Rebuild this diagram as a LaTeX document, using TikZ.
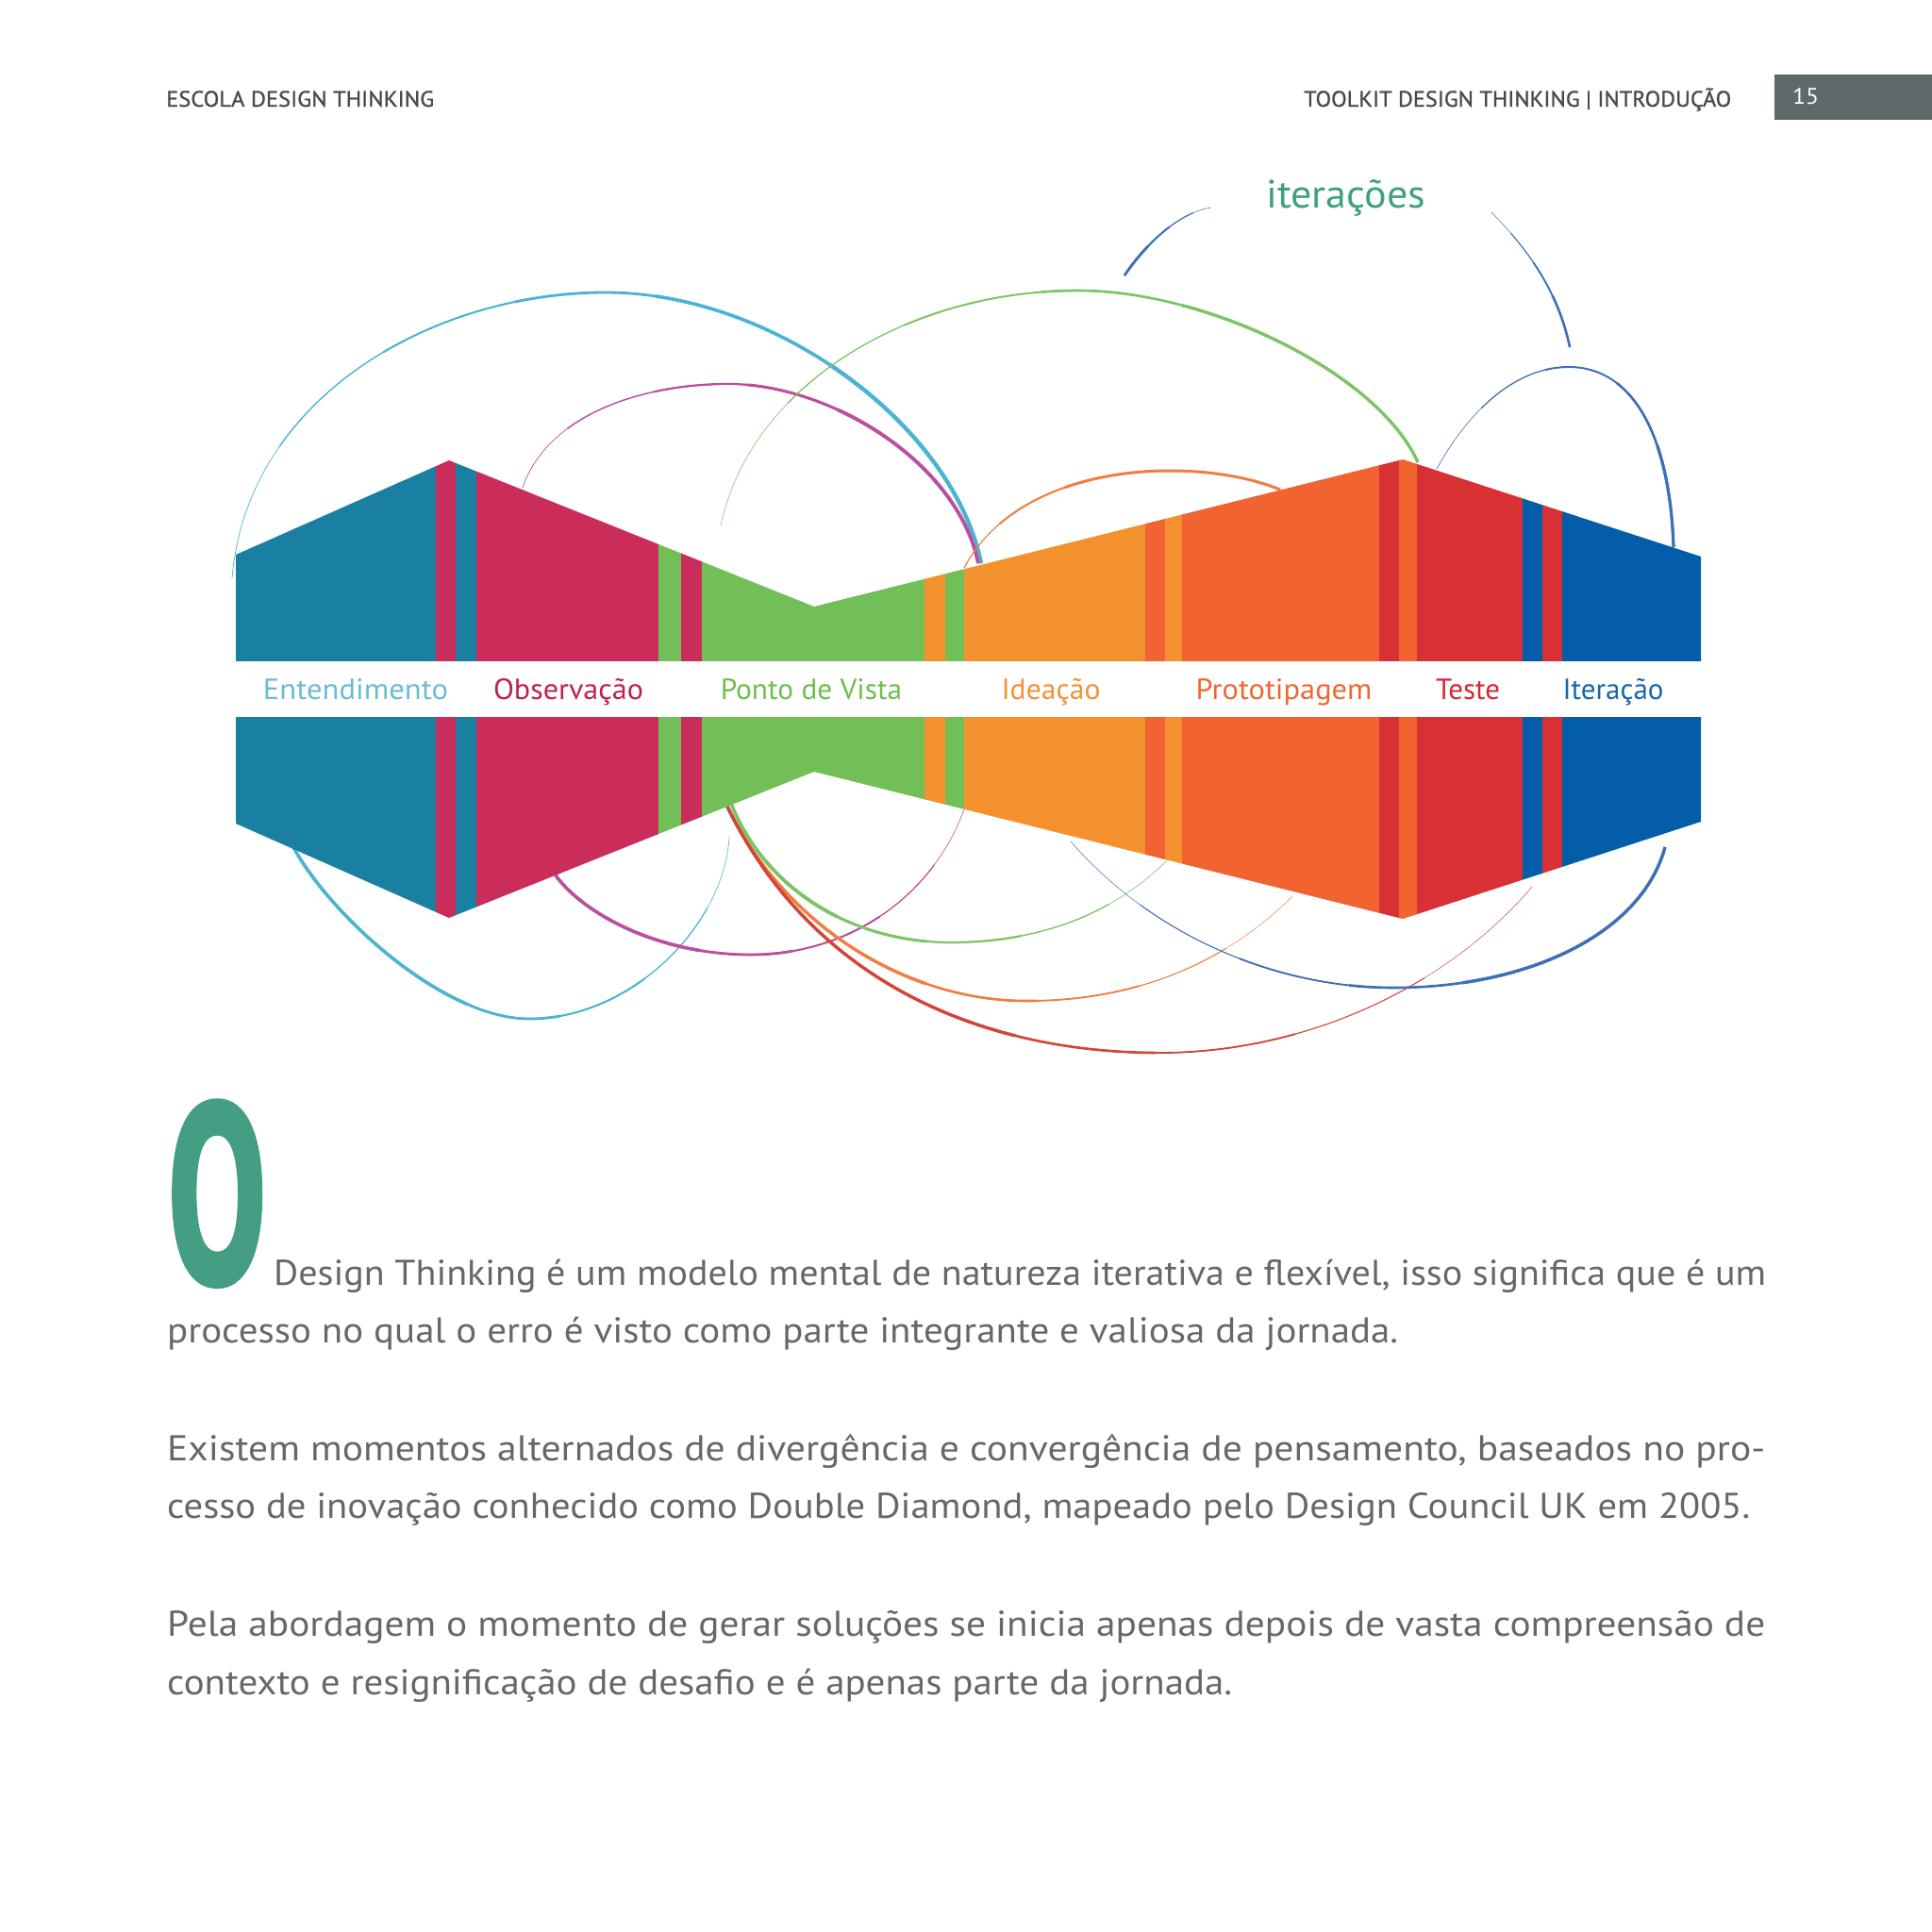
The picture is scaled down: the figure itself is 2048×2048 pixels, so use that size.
\documentclass[tikz,border=0pt]{standalone}
\usepackage{fontspec}
\usepackage{graphicx}
\setmainfont{PT Sans}
\newfontfamily\dropfont{PT Sans}[BoldFeatures={FakeBold=2.5}]
\newfontfamily\hdrfont{PT Sans}[FakeBold=1]
\definecolor{bE}{HTML}{1A80A1}
\definecolor{bO}{HTML}{CA2D5A}
\definecolor{bP}{HTML}{72BF57}
\definecolor{bI}{HTML}{F4912F}
\definecolor{bR}{HTML}{F16331}
\definecolor{bT}{HTML}{D73035}
\definecolor{bB}{HTML}{035DA8}
\definecolor{tE}{HTML}{6BBCD3}
\definecolor{tO}{HTML}{BF1F57}
\definecolor{tP}{HTML}{6EBE4A}
\definecolor{tI}{HTML}{F39134}
\definecolor{tR}{HTML}{EE6733}
\definecolor{tT}{HTML}{D12A35}
\definecolor{tB}{HTML}{1767A9}
\definecolor{cE}{HTML}{4BB4D4}
\definecolor{cO}{HTML}{BA4F9F}
\definecolor{cP}{HTML}{7CC466}
\definecolor{cI}{HTML}{F07E40}
\definecolor{cT}{HTML}{D44539}
\definecolor{cB}{HTML}{3E6FB5}
\definecolor{hdr}{HTML}{4A4A4A}
\definecolor{pgbox}{HTML}{5E696B}
\definecolor{dropc}{HTML}{449E83}
\definecolor{iterc}{HTML}{3FA080}
\definecolor{bodyc}{HTML}{676767}
% tapered stroke: #1 colour, #2 list offset/width, #3 path
\newcommand\brush[3]{%
  \foreach \oo/\ww in {#2}{%
    \draw[#1, line width=\ww pt, dash pattern=on 0pt off \oo pt on 9000pt] #3;
  }%
}
\tikzset{
  lbl/.style={anchor=base, inner sep=0pt, font=\fontsize{31}{36}\selectfont},
  hdrtxt/.style={anchor=base west, inner sep=0pt, text=hdr, font=\fontsize{23.5}{28}\hdrfont},
  bodytxt/.style={anchor=base west, inner sep=0pt, text=bodyc, font=\fontsize{38}{44}\selectfont},
}
\begin{document}
\begin{tikzpicture}[x=1pt, y=-1pt]
\useasboundingbox[fill=white] (0,0) rectangle (2048,2048);

% header
\node[hdrtxt] (h1) at (176,113) {\resizebox{284pt}{\height}{ESCOLA DESIGN THINKING}};
\node[hdrtxt] (h2) at (1382,113) {\resizebox{453pt}{\height}{TOOLKIT DESIGN THINKING | INTRODUÇÃO}};
\fill[pgbox] (1881,79) rectangle (2048,127);
\node[anchor=base west, inner sep=0pt, text=white, font=\fontsize{24}{28}\selectfont] (pg) at (1900,110) {\resizebox{28pt}{\height}{15}};

% iteration loops (drawn behind the band)
\brush{cE}{0/0.7,150/1.3,300/2.0,450/2.8,600/3.6,800/4.3}{(246,613) .. controls (262,420) and (460,310) .. (642,310) .. controls (820,310) and (1010,450) .. (1040,597)}
\brush{cO}{0/0.7,80/1.4,180/2.2,280/3.0,380/3.8}{(554,517) .. controls (580,440) and (680,407) .. (772,407) .. controls (880,407) and (1015,490) .. (1037,597)}
\brush{cP}{0/0.6,150/1.2,300/1.9,450/2.6,600/3.3}{(764,557) .. controls (795,410) and (960,308) .. (1143,308) .. controls (1280,308) and (1460,395) .. (1503,490)}
\brush{cI}{0/1.2,60/2.0,140/3.0}{(1022,602) .. controls (1060,530) and (1150,499) .. (1240,499) .. controls (1290,499) and (1330,508) .. (1357,519)}
\brush{cB}{0/0.6,80/1.2,160/1.9,240/2.6,320/3.2}{(1523,497) .. controls (1560,430) and (1610,389) .. (1663,389) .. controls (1730,389) and (1770,460) .. (1774,580)}
\brush{cB}{0/0.5,20/1.2,50/2.0,80/2.8}{(1284,220) .. controls (1250,225) and (1215,258) .. (1192,292)}
\brush{cB}{0/0.5,30/1.1,70/1.8,110/2.5}{(1581,225) .. controls (1610,255) and (1650,300) .. (1664,368)}
\brush{cE}{0/0.6,80/1.2,180/2.0,280/2.8,380/3.6}{(773,887) .. controls (768,980) and (670,1080) .. (561,1080) .. controls (470,1080) and (350,970) .. (311,898)}
\brush{cO}{0/0.6,70/1.2,150/2.0,250/2.8,350/3.6}{(1023,855) .. controls (990,950) and (900,1012) .. (796,1012) .. controls (700,1012) and (620,970) .. (589,928)}
\brush{cP}{0/0.6,80/1.3,180/2.2,280/3.0,380/3.8}{(1239,910) .. controls (1180,970) and (1100,999) .. (1008,999) .. controls (900,999) and (810,940) .. (775,852)}
\brush{cI}{0/0.5,90/1.0,190/1.8,300/2.6,420/3.4}{(1370,950) .. controls (1290,1030) and (1190,1061) .. (1088,1061) .. controls (960,1061) and (830,980) .. (770,853)}
\brush{cT}{0/0.5,150/1.0,300/1.8,450/2.6,600/3.4}{(1624,940) .. controls (1530,1050) and (1380,1116) .. (1229,1116) .. controls (1040,1116) and (860,1040) .. (770,853)}
\brush{cB}{0/0.5,100/1.0,220/1.8,340/2.6,460/3.4}{(1135,892) .. controls (1220,990) and (1350,1047) .. (1477,1047) .. controls (1620,1047) and (1740,990) .. (1765,898)}

% the band
\begin{scope}
\clip (250,588) -- (476,488) -- (863,643) -- (1487,487) -- (1803,590) -- (1803,871) -- (1487,974) -- (863,818) -- (476,973) -- (250,873) -- cycle;
\foreach \c/\a/\b in {bE/250/462, bO/462/482.5, bE/482.5/504.5, bO/504.5/698.4, bP/698.4/722.3, bO/722.3/743.8, bP/743.8/980, bI/980/1002, bP/1002/1021.7, bI/1021.7/1214.2, bR/1214.2/1235, bI/1235/1253, bR/1253/1462.3, bT/1462.3/1483, bR/1483/1502, bT/1502/1613.8, bB/1613.8/1635, bT/1635/1655.8, bB/1655.8/1804}
  \fill[\c] (\a,480) rectangle (\b+0.6,985);
\end{scope}
\fill[white] (245,701) rectangle (1810,760);

% stage labels
\node[lbl, text=tE] (lE) at (377,741.7) {\resizebox{196pt}{\height}{Entendimento}};
\node[lbl, text=tO] (lO) at (602.5,741.7) {\resizebox{159pt}{\height}{Observação}};
\node[lbl, text=tP] (lP) at (860,741.7) {\resizebox{192.5pt}{\height}{Ponto de Vista}};
\node[lbl, text=tI] (lI) at (1114,741.7) {\resizebox{105pt}{\height}{Ideação}};
\node[lbl, text=tR] (lR) at (1361,741.7) {\resizebox{186.7pt}{\height}{Prototipagem}};
\node[lbl, text=tT] (lT) at (1556,741.7) {\resizebox{68pt}{\height}{Teste}};
\node[lbl, text=tB] (lB) at (1710,741.7) {\resizebox{107pt}{\height}{Iteração}};

\node[anchor=base west, inner sep=0pt, text=iterc, font=\fontsize{42}{48}\selectfont] (it) at (1342,220) {\resizebox{169pt}{\height}{iterações}};

% drop cap and body text
\node[anchor=base west, inner sep=0pt, text=dropc, font=\fontsize{268}{268}\dropfont\bfseries] (dc) at (178,1359) {\resizebox{104pt}{\height}{O}};
\node[bodytxt] (p1) at (290,1362) {\resizebox{1582pt}{\height}{Design Thinking é um modelo mental de natureza iterativa e flexível, isso significa que é um}};
\node[bodytxt] (p2) at (177,1423.5) {\resizebox{1305pt}{\height}{processo no qual o erro é visto como parte integrante e valiosa da jornada.}};
\node[bodytxt] (p3) at (177,1548) {\resizebox{1694pt}{\height}{Existem momentos alternados de divergência e convergência de pensamento, baseados no pro-}};
\node[bodytxt] (p4) at (177,1609.5) {\resizebox{1678pt}{\height}{cesso de inovação conhecido como Double Diamond, mapeado pelo Design Council UK em 2005.}};
\node[bodytxt] (p5) at (177,1734) {\resizebox{1694pt}{\height}{Pela abordagem o momento de gerar soluções se inicia apenas depois de vasta compreensão de}};
\node[bodytxt] (p6) at (177,1796) {\resizebox{1129pt}{\height}{contexto e resignificação de desafio e é apenas parte da jornada.}};
\end{tikzpicture}
\end{document}
